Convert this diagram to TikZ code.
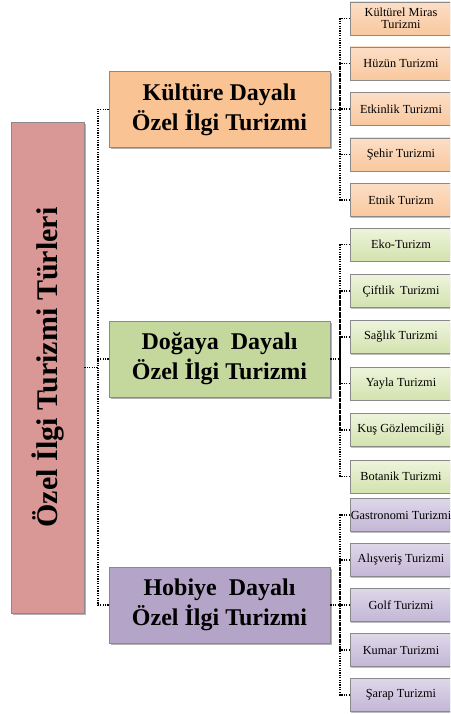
\documentclass[tikz,border=0pt]{standalone}
\usepackage{fontspec}
\setmainfont{Liberation Serif}
\usetikzlibrary{shadows}
\definecolor{boxgray}{HTML}{8A8A8A}
\definecolor{rootfill}{HTML}{D99795}
\definecolor{peachbig}{HTML}{FAC393}
\definecolor{greenbig}{HTML}{C4D79D}
\definecolor{purplebig}{HTML}{B4A4C8}
\definecolor{peachtop}{HTML}{FCDEC6}
\definecolor{peachbot}{HTML}{F9C89E}
\definecolor{greentop}{HTML}{EEF4DC}
\definecolor{greenbot}{HTML}{D3E2AE}
\definecolor{purpletop}{HTML}{DED7E9}
\definecolor{purplebot}{HTML}{C3B6D6}
\begin{document}
\begin{tikzpicture}[x=1pt,y=-1pt,
  mainbox/.style={draw=boxgray, line width=0.7pt, minimum width=221pt, minimum height=76pt,
    inner sep=0pt, align=center, font=\fontsize{24}{30}\selectfont\bfseries,
    drop shadow={shadow xshift=1.5pt, shadow yshift=-2pt, fill=black, opacity=0.3}},
  rootbox/.style={draw=boxgray, line width=0.7pt, minimum width=73pt, minimum height=491pt,
    inner sep=0pt, fill=rootfill,
    drop shadow={shadow xshift=1.5pt, shadow yshift=-2pt, fill=black, opacity=0.3}},
  subbox/.style={draw=boxgray, line width=0.5pt, minimum width=102pt, minimum height=33pt,
    inner sep=0pt, align=center, font=\fontsize{12.3}{12.5}\selectfont,
    drop shadow={shadow xshift=1pt, shadow yshift=-1pt, fill=black, opacity=0.25}},
  peachsub/.style={subbox, top color=peachtop, bottom color=peachbot},
  greensub/.style={subbox, top color=greentop, bottom color=greenbot},
  purplesub/.style={subbox, top color=purpletop, bottom color=purplebot},
  link/.style={dash pattern=on 1.2pt off 1.2pt, line width=1.2pt, black}
]
\useasboundingbox (0,0) rectangle (450,714);
\clip (0,0) rectangle (450,714);

% root
\node[rootbox] (root) at (47.5,367.5) {};
\node[rotate=90, font=\fontsize{30}{34}\selectfont\bfseries] (roottext) at (47.5,367.5) {Özel İlgi Turizmi Türleri};

% main category boxes
\node[mainbox, fill=peachbig] (k) at (219.5,109.5) {Kültüre Dayalı\\Özel İlgi Turizmi};
\node[mainbox, fill=greenbig] (d) at (219.5,359) {Doğaya\hspace{0.25em} Dayalı\\Özel İlgi Turizmi};
\node[mainbox, fill=purplebig] (h) at (219.5,605) {Hobiye\hspace{0.25em} Dayalı\\Özel İlgi Turizmi};

% culture sub boxes
\node[peachsub] (k1) at (401,18.5) {Kültürel Miras\\Turizmi};
\node[peachsub] (k2) at (401,63.5) {Hüzün Turizmi};
\node[peachsub] (k3) at (401,109) {Etkinlik Turizmi};
\node[peachsub] (k4) at (401,154.5) {Şehir Turizmi};
\node[peachsub] (k5) at (401,200) {Etnik Turizm};

% nature sub boxes
\node[greensub] (d1) at (401,244.5) {Eko-Turizm};
\node[greensub] (d2) at (401,291) {Çiftlik\hspace{0.2em} Turizmi};
\node[greensub] (d3) at (401,337) {Sağlık Turizmi};
\node[greensub] (d4) at (401,383.5) {Yayla Turizmi};
\node[greensub] (d5) at (401,430) {Kuş Gözlemciliği};
\node[greensub] (d6) at (401,476.5) {Botanik Turizmi};

% hobby sub boxes
\node[purplesub] (h1) at (401,515) {Gastronomi Turizmi};
\node[purplesub] (h2) at (401,560) {Alışveriş Turizmi};
\node[purplesub] (h3) at (401,605) {Golf Turizmi};
\node[purplesub] (h4) at (401,650) {Kumar Turizmi};
\node[purplesub] (h5) at (401,695) {Şarap Turizmi};

% main trunk
\coordinate (mt) at (98,367.5);
\draw[link] (root.east) -- (mt);
\draw[link] (k.west) -| (mt);
\draw[link] (d.west) -| (mt);
\draw[link] (h.west) -| (mt);

% sub trunks
\coordinate (kt) at (340,109.5);
\draw[link] (k.east) -- (kt);
\foreach \c in {k1,k2,k3,k4,k5} \draw[link] (\c.west) -| (kt);

\coordinate (dt) at (340,359);
\draw[link] (d.east) -- (dt);
\foreach \c in {d1,d2,d3,d4,d5,d6} \draw[link] (\c.west) -| (dt);

\coordinate (ht) at (340,605);
\draw[link] (h.east) -- (ht);
\foreach \c in {h1,h2,h3,h4,h5} \draw[link] (\c.west) -| (ht);
\end{tikzpicture}
\end{document}
